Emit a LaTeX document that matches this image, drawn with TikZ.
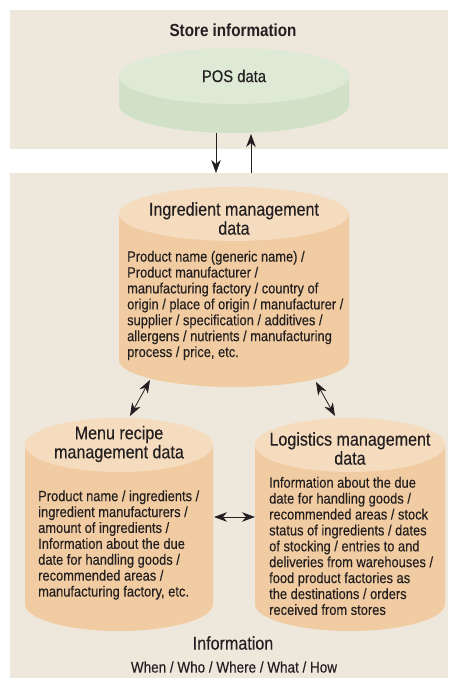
\documentclass[tikz,border=0pt]{standalone}
\usepackage{fontspec}
\setmainfont[FakeStretch=0.87, FakeBold=0.25, BoldFeatures={FakeStretch=0.87, FakeBold=0}]{Liberation Sans}
\usetikzlibrary{arrows.meta}

\definecolor{panel}{HTML}{EEE7DB}
\definecolor{posside}{HTML}{D1E1C7}
\definecolor{postop}{HTML}{DEEAD6}
\definecolor{cylside}{HTML}{F1CBA1}
\definecolor{cyltop}{HTML}{F5DCBF}
\definecolor{ink}{HTML}{231F20}

% a database drum: name, centre x, top y, half width, height, cap radius, side colour, cap colour
\newcommand\dbdrum[8]{%
  \node[holder, minimum width=2*#4, minimum height=#5] (#1) at (#2, #3-#5/2) {};
  \fill[#7] (#2-#4, #3-#6) -- (#2-#4, #3-#5+#6)
     arc[start angle=180, end angle=360, x radius=#4, y radius=#6]
     -- (#2+#4, #3-#6) -- cycle;
  \fill[#8] (#2, #3-#6) ellipse[x radius=#4, y radius=#6];
}

\begin{document}
\begin{tikzpicture}[x=1pt, y=1pt,
  holder/.style={inner sep=0pt, outer sep=0pt},
  panelbox/.style={fill=panel, inner sep=0pt, outer sep=0pt},
  title/.style={text=ink, font=\fontsize{18.5}{19}\selectfont, align=center, inner sep=0pt},
  body/.style={text=ink, font=\fontsize{14.8}{15.9}\selectfont, align=left, inner sep=0pt, anchor=west},
  link/.style={draw=ink, line width=0.8pt},
  tip/.tip={Stealth[length=13pt, width=9.5pt, inset=4pt]}]
\useasboundingbox (0,0) rectangle (448,679);

% background panels
\node[panelbox, minimum width=438, minimum height=139] (store) at (229, 599.5) {};
\node[panelbox, minimum width=438, minimum height=505] (info) at (229, 253.5) {};

% store panel
\node[text=ink, font=\bfseries\fontsize{17.5}{19}\selectfont, inner sep=0pt] (storetitle) at (233, 649) {Store information};
\dbdrum{pos}{234}{631}{115}{85}{28}{posside}{postop}
\node[text=ink, font=\fontsize{17}{19}\selectfont, inner sep=0pt] (poslabel) at (234, 603) {POS data};

% data drums
\dbdrum{ing}{234}{492}{115}{200}{27}{cylside}{cyltop}
\dbdrum{menu}{119}{261}{94}{213}{27}{cylside}{cyltop}
\dbdrum{logi}{350}{261}{95}{213}{27}{cylside}{cyltop}

\node[title] (ingtitle) at (234, 460.5) {Ingredient management\\data};
\node[body] (ingbody) at (127, 373.5) {Product name (generic name) /\\
Product manufacturer /\\
manufacturing factory / country of\\
origin / place of origin / manufacturer /\\
supplier / specification / additives /\\
allergens / nutrients / manufacturing\\
process / price, etc.};

\node[title] (menutitle) at (119, 235) {Menu recipe\\management data};
\node[body] (menubody) at (38, 134) {Product name / ingredients /\\
ingredient manufacturers /\\
amount of ingredients /\\
Information about the due\\
date for handling goods /\\
recommended areas /\\
manufacturing factory, etc.};

\node[title] (logititle) at (350, 230.5) {Logistics management\\data};
\node[body] (logibody) at (269, 133) {Information about the due\\
date for handling goods /\\
recommended areas / stock\\
status of ingredients / dates\\
of stocking / entries to and\\
deliveries from warehouses /\\
food product factories as\\
the destinations / orders\\
received from stores};

\node[title] (infotitle) at (233, 36) {Information};
\node[text=ink, font=\fontsize{15.5}{17}\selectfont, inner sep=0pt] (infosub) at (234, 12) {When / Who / Where / What / How};

% connectors
\draw[link, -tip] ([xshift=-18pt]pos.south) -- ([xshift=-18pt]pos.south |- info.north);
\draw[link, -tip] ([xshift=17pt]pos.south |- info.north) -- ([xshift=17pt, yshift=-1pt]pos.south);
\draw[link, tip-tip] ([xshift=31pt, yshift=7pt]ing.south west) -- ([xshift=105pt, yshift=2pt]menu.north west);
\draw[link, tip-tip] ([xshift=197pt, yshift=5pt]ing.south west) -- ([xshift=80pt, yshift=2pt]logi.north west);
\draw[link, tip-tip] ([xshift=1pt, yshift=7.5pt]menu.east) -- ([yshift=7.5pt]logi.west);
\end{tikzpicture}
\end{document}
